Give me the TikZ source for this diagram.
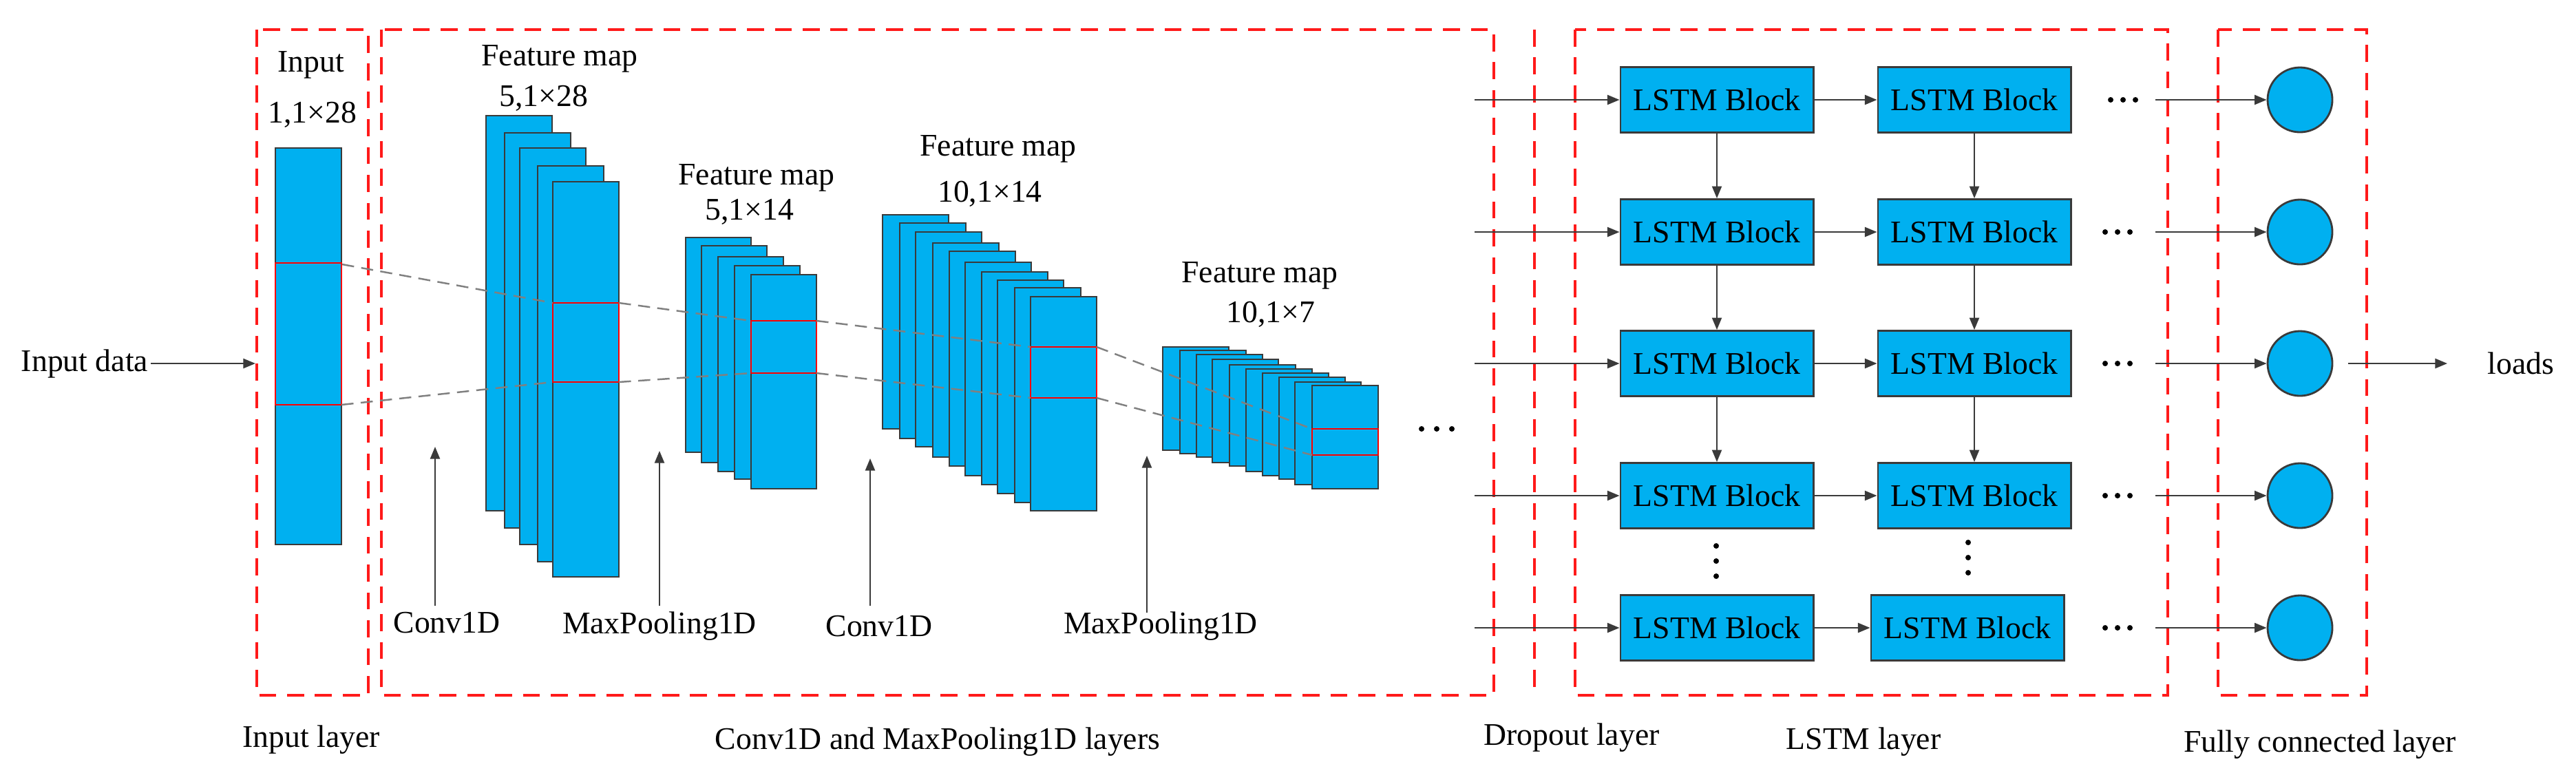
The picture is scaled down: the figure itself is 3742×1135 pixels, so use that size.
\documentclass[tikz,border=0pt]{standalone}
\usepackage{fontspec}
\setmainfont{Liberation Serif}
\newfontfamily\tnr{Liberation Serif}
\usetikzlibrary{arrows.meta}
\definecolor{cy}{HTML}{00B0F0}
\definecolor{bd}{HTML}{3A3A3A}
\definecolor{rd}{HTML}{FF1A1A}
\begin{document}
\begin{tikzpicture}[x=0.01cm,y=-0.01cm,
  fm/.style={fill=cy,draw=bd,line width=0.6pt},
  redbox/.style={draw=rd,line width=1.3pt,dash pattern=on 7pt off 4.5pt},
  sel/.style={draw=red,line width=0.6pt},
  dl/.style={draw=gray,line width=0.7pt,dash pattern=on 5pt off 3pt},
  arr/.style={draw=bd,line width=0.6pt,-{Triangle[length=5pt,width=4pt]}},
  lb/.style={fill=cy,draw=bd,line width=0.8pt,minimum width=2.8cm,minimum height=0.95cm,inner sep=0pt,font=\tnr\fontsize{13}{15}\selectfont},
  txt/.style={font=\tnr\fontsize{13}{15}\selectfont,inner sep=1pt},
  dot/.style={fill=black,draw=none,circle,inner sep=0pt,minimum size=7.5pt},
  fc/.style={circle,fill=cy,draw=bd,line width=0.8pt,minimum size=0.94cm,inner sep=0pt}]
\useasboundingbox (0,0) rectangle (3742,1135);
% red dashed boxes
\draw[redbox] (373,43) rectangle (535,1010);
\draw[redbox] (554,43) rectangle (2170,1010);
\draw[redbox] (2229,43) -- (2229,1010);
\draw[redbox] (2288,43) rectangle (3149,1010);
\draw[redbox] (3222,43) rectangle (3438,1010);
% input
\draw[fm] (400,215) rectangle (496,791);
\draw[sel] (400,382) rectangle (496,588);
\node[txt] (tin) at (452,94) {Input};
\node[txt] (tin2) at (454,167) {1,1×28};
\node[txt] (indata) at (123,528) {Input data};
\coordinate (inL) at (371,528);
\draw[arr] (indata.east) -- (inL);
% FM1
\foreach \x/\t/\b in {706/168/742,733/193/767,755/215/791,781/241/816,803/264/838}
  \draw[fm] (\x,\t) rectangle (\x+96,\b);
\draw[sel] (803,440) rectangle (899,555);
\node[txt] at (813,85) {Feature map};
\node[txt] at (790,143) {5,1×28};
% FM2
\foreach \x/\t/\b in {996/345/657,1019/357/672,1043/373/685,1067/386/696,1091/399/710}
  \draw[fm] (\x,\t) rectangle (\x+95,\b);
\draw[sel] (1091,466) rectangle (1186,542);
\node[txt] at (1099,258) {Feature map};
\node[txt] at (1089,308) {5,1×14};
% FM3
\foreach \x/\t/\b in {1282/312/623,1307/324/637,1330/337/649,1355/353/664,1379/365/677,1402/381/691,1426/395/704,1449/407/717,1474/418/730,1497/431/742}
  \draw[fm] (\x,\t) rectangle (\x+96,\b);
\draw[sel] (1497,504) rectangle (1593,578);
\node[txt] at (1450,216) {Feature map};
\node[txt] at (1438,282) {10,1×14};
% FM4
\foreach \x/\t/\b in {1689/504/654,1714/509/659,1738/515/664,1761/522/672,1786/530/677,1810/536/685,1834/542/691,1858/548/696,1881/555/704,1906/560/710}
  \draw[fm] (\x,\t) rectangle (\x+96,\b);
\draw[sel] (1906,623) rectangle (2002,661);
\node[txt] at (1830,400) {Feature map};
\node[txt] at (1846,457) {10,1×7};
\foreach \dx in {-22,0,22} \fill (2087+\dx,623) circle (4);
% dashed projection lines
\draw[dl] (497,384) -- (803,440);
\draw[dl] (899,440) -- (1091,466);
\draw[dl] (1186,466) -- (1497,504);
\draw[dl] (1593,504) -- (1906,623);
\draw[dl] (496,588) -- (803,555);
\draw[dl] (899,555) -- (1091,542);
\draw[dl] (1186,542) -- (1497,578);
\draw[dl] (1593,578) -- (1906,661);
% operation labels
\node[txt,anchor=north] (c1) at (649,885) {Conv1D};
\node[txt,anchor=north] (m1) at (958,885) {MaxPooling1D};
\node[txt,anchor=north] (c2) at (1277,890) {Conv1D};
\node[txt,anchor=north] (m2) at (1686,885) {MaxPooling1D};
\coordinate (c1t) at (632,649);
\coordinate (m1t) at (958,655);
\coordinate (c2t) at (1264,666);
\coordinate (m2t) at (1666,662);
\draw[arr] (632,880) -- (c1t);
\draw[arr] (958,880) -- (m1t);
\draw[arr] (1264,880) -- (c2t);
\draw[arr] (1666,890) -- (m2t);
% LSTM blocks
\foreach \r/\y in {1/145,2/337,3/528,4/720,5/912}{
  \node[lb] (a\r) at (2494,\y) {LSTM Block};
  \coordinate (s\r) at (2142,\y);
  \draw[arr] (s\r) -- (a\r.west);
  \node[fc] (f\r) at (3341,\y) {};
}
\foreach \r/\y in {1/145,2/337,3/528,4/720}
  \node[lb] (b\r) at (2868,\y) {LSTM Block};
\node[lb] (b5) at (2858,912) {LSTM Block};
\foreach \r in {1,...,5} \draw[arr] (a\r) -- (b\r);
\foreach \r/\n in {1/2,2/3,3/4}{
  \draw[arr] (a\r) -- (a\n);
  \draw[arr] (b\r) -- (b\n);
}
\foreach \r/\y/\d in {1/145/3084,2/337/3076,3/528/3076,4/720/3076,5/912/3076}{
  \foreach \dx in {-18,0,18} \fill (\d+\dx,\y) circle (4);
  \coordinate (e\r) at (3131,\y);
  \draw[arr] (e\r) -- (f\r.west);
}
\foreach \dy in {-22,0,22} {\fill (2493,815+\dy) circle (4); \fill (2859,810+\dy) circle (4);}
\node[txt] (loads) at (3662,528) {loads};
\coordinate (lo) at (3555,528);
\draw[arr] (3411,528) -- (lo);
% bottom labels
\node[txt] at (452,1075) {Input layer};
\node[txt] at (1362,1078) {Conv1D and MaxPooling1D layers};
\node[txt] at (2283,1072) {Dropout layer};
\node[txt] at (2707,1078) {LSTM layer};
\node[txt] at (3370,1082) {Fully connected layer};
\end{tikzpicture}
\end{document}
